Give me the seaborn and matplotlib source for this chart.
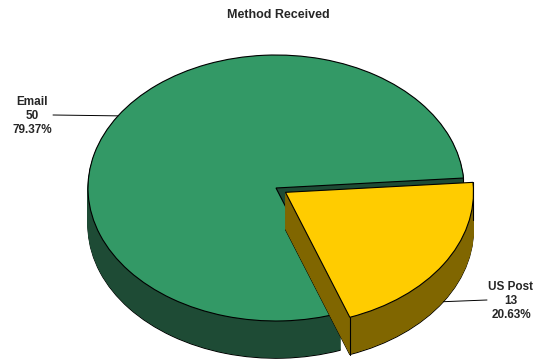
import numpy as np
import matplotlib
matplotlib.use("Agg")
import matplotlib.pyplot as plt
import seaborn as sns

# ---- data ----
categories = ["Email", "US Post"]
counts = [50, 13]
percent_labels = ["79.37%", "20.63%"]
top_colors = ["#339966", "#FFCC00"]
side_colors = ["#1E4B35", "#806600"]
explode = [0.0, 0.06]
title = "Method Received"

sns.set_theme(style="white")
plt.rcParams["font.family"] = ["Liberation Sans", "DejaVu Sans"]

W, H = 537, 360
fig = plt.figure(figsize=(W / 100, H / 100), dpi=100)
ax = fig.add_axes([0, 0, 1, 1])

cx_px, cy_px, rx_px, ry_px = 276, 188, 188, 133
depth = 0.28
n_layers = 45
start = 4.3

def draw_layer(idx, yoff, face, lw, edge, z):
    wedges, _ = ax.pie(counts, startangle=start, explode=explode, radius=1.0,
                       center=(0, yoff), colors=[face] * len(counts),
                       wedgeprops=dict(linewidth=lw, edgecolor=edge),
                       frame=True)
    for j, w in enumerate(wedges):
        w.set_zorder(z)
        if j != idx:
            w.set_visible(False)
    return wedges[idx]

top_wedges = []
for i in range(len(counts)):
    z = 10 * (i + 1)
    for k in range(n_layers):
        yoff = -depth + depth * k / n_layers
        if k == 0:
            draw_layer(i, yoff, side_colors[i], 0.8, "black", z)
        else:
            draw_layer(i, yoff, side_colors[i], 0.6, side_colors[i], z)
    w = draw_layer(i, 0.0, top_colors[i], 0.8, "black", z + 2)
    top_wedges.append(w)
    c = np.array(w.center)
    for th in (w.theta1, w.theta2):
        p = c + np.array([np.cos(np.radians(th)), np.sin(np.radians(th))]) * w.r
        if i == 1 or th < 90:
            ax.plot([p[0], p[0]], [p[1], p[1] - depth], color="black", lw=0.8,
                    zorder=z + 1)

# axis scaling: ellipse look
ax.set_aspect("auto")
ax.set_xlim(-cx_px / rx_px, (W - cx_px) / rx_px)
ax.set_ylim(-(H - cy_px) / ry_px, cy_px / ry_px)
ax.axis("off")

# labels
def px2data(x, y):
    return (x - cx_px) / rx_px, (cy_px - y) / ry_px

label_pos = [(32, 116), (511, 301)]
line_end = [(53, 115), (487, 300)]
for i, w in enumerate(top_wedges):
    mid = np.radians((w.theta1 + w.theta2) / 2)
    c = np.array(w.center)
    p = c + np.array([np.cos(mid), np.sin(mid)]) * w.r
    if np.sin(mid) < 0:
        p[1] -= depth
    tx, ty = px2data(*label_pos[i])
    ex, ey = px2data(*line_end[i])
    ax.plot([ex, p[0]], [ey, p[1]], color="black", lw=0.7, zorder=50)
    ax.text(tx, ty, f"{categories[i]}\n{counts[i]}\n{percent_labels[i]}",
            ha="center", va="center", fontsize=8.5, fontweight="bold",
            linespacing=1.25, zorder=60)

fig.text(278 / W, 1 - 15 / H, title, ha="center", va="center",
         fontsize=9, fontweight="bold")

fig.savefig("out.png", dpi=100, facecolor="white")
